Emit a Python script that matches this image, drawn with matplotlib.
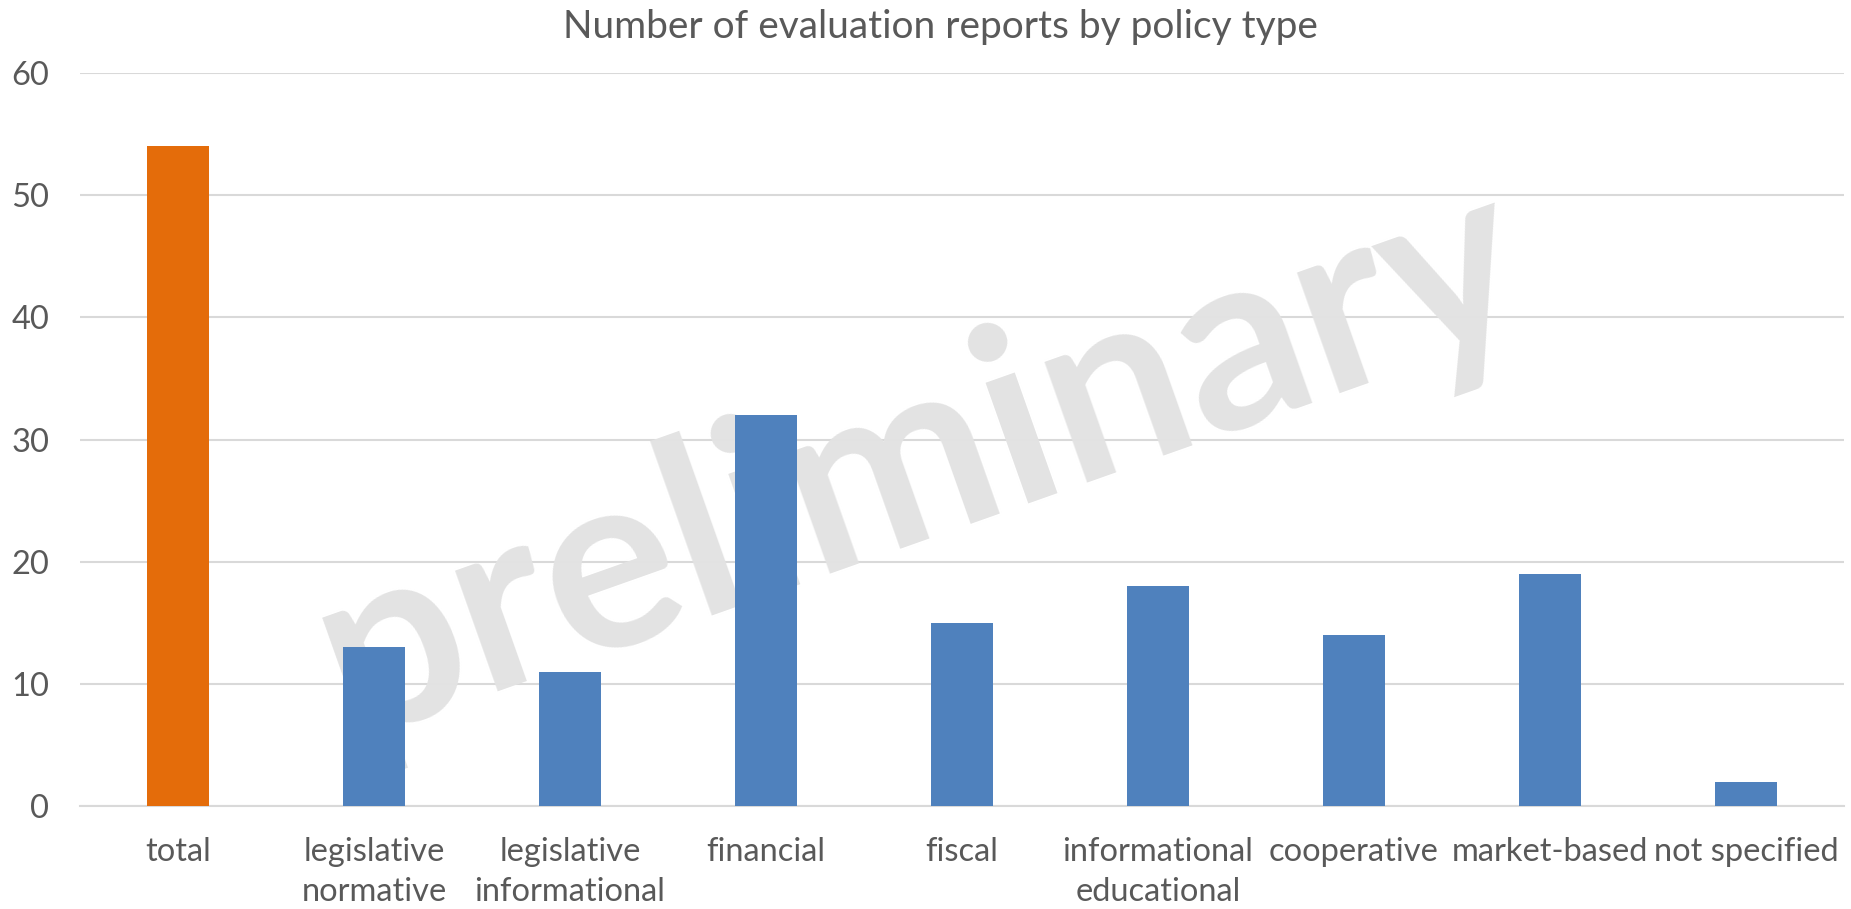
import matplotlib
matplotlib.use("Agg")
import matplotlib.pyplot as plt
import numpy as np

categories = ["total", "legislative\nnormative", "legislative\ninformational", "financial",
              "fiscal", "informational\neducational", "cooperative", "market-based", "not specified"]
values = [54, 13, 11, 32, 15, 18, 14, 19, 2]
bar_colors = ["#E46C0A"] + ["#4F81BD"] * 8
yticks = [0, 10, 20, 30, 40, 50, 60]
title = "Number of evaluation reports by policy type"
watermark = "preliminary"

plt.rcParams['font.family'] = ['Lato', 'DejaVu Sans']

W, H = 1851, 909
fig = plt.figure(figsize=(W / 100, H / 100), dpi=100)
ax = fig.add_axes([80 / W, 1 - 806 / H, (1844 - 80) / W, (806 - 73) / H])

x = np.arange(len(categories))
ax.bar(x, values, width=0.32, color=bar_colors, zorder=3)
ax.set_xlim(-0.5, len(categories) - 0.5)
ax.set_ylim(0, 60)
ax.set_yticks(yticks)
ax.set_xticks(x)
ax.set_xticklabels(categories, linespacing=1.42)
ax.tick_params(axis='both', length=0, labelsize=23.5, labelcolor="#595959")
ax.tick_params(axis='y', pad=22)
ax.tick_params(axis='x', pad=22.5)
ax.yaxis.grid(True, color="#d9d9d9", linewidth=1.5, zorder=2)
ax.set_axisbelow(True)
for s in ["top", "right", "left"]:
    ax.spines[s].set_visible(False)
ax.spines["bottom"].set_color("#d9d9d9")
ax.spines["bottom"].set_linewidth(1.5)
ax.spines["bottom"].set_zorder(2.5)

fig.text(0.508, 1 - 27 / H, title, ha="center", va="center", fontsize=28, color="#595959")

ax.text(0.476, 0.471, watermark, transform=ax.transAxes, rotation=19.5, ha="center", va="center",
        fontsize=180, fontweight="bold", color="#e3e3e3", zorder=1, rotation_mode="anchor")

fig.savefig("out.png", dpi=100)
